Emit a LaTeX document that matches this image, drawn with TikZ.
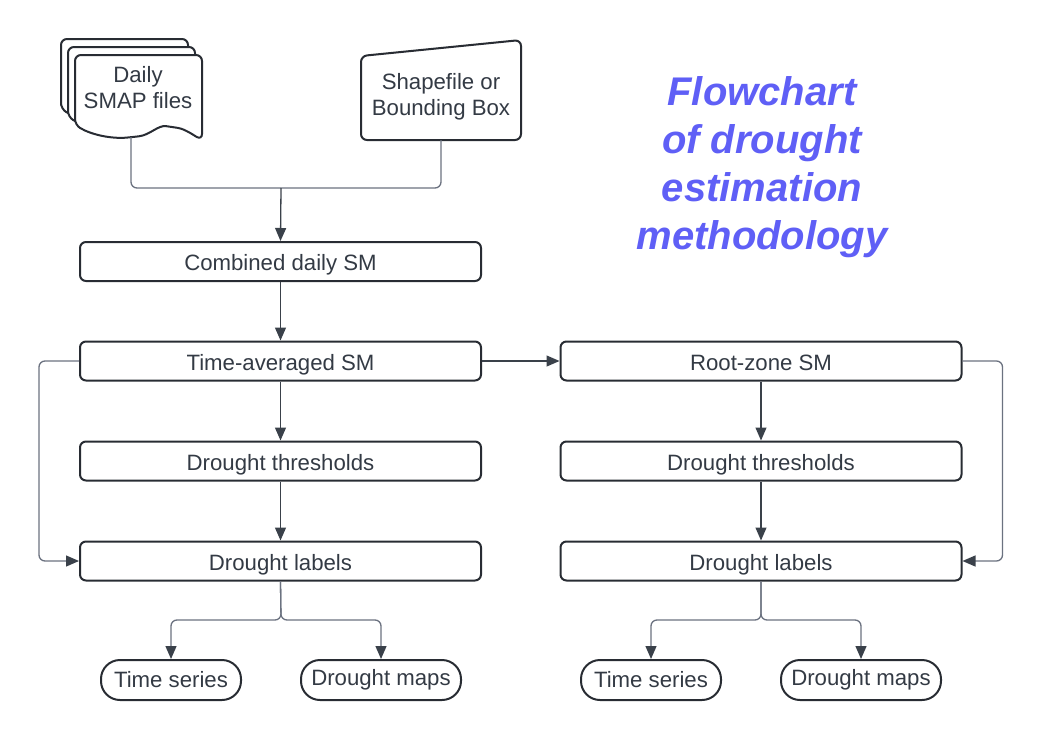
\documentclass[tikz,border=0pt]{standalone}
\usepackage{fontspec}
\setmainfont{Liberation Sans}
\usetikzlibrary{arrows.meta}
\definecolor{bord}{HTML}{282C33}
\definecolor{txt}{HTML}{333A44}
\definecolor{conn}{HTML}{6B7280}
\definecolor{head}{HTML}{3A414A}
\definecolor{ttl}{HTML}{5F5FF6}
\begin{document}
\begin{tikzpicture}[x=1pt,y=-1pt,
  lbl/.style={font=\fontsize{22.2}{26}\selectfont, text=txt},
  box/.style={lbl, draw=bord, line width=2pt, rounded corners=6pt, minimum width=401pt, minimum height=39pt, inner sep=0pt, text height=18pt, text depth=0pt},
  pill/.style={lbl, draw=bord, line width=2pt, rounded corners=19pt, minimum height=40pt, inner sep=0pt},
  shp/.style={draw=bord, line width=2pt, fill=white, rounded corners=6pt},
  tip/.style={-{Triangle[length=13pt,width=11pt,color=head,fill=head]}},
  arr/.style={draw=head, line width=1.3pt, tip},
  conn/.style={draw=conn, line width=1.3pt, rounded corners=6pt},
  carr/.style={conn, tip}]
\useasboundingbox (0,0) rectangle (1042,742);
% document stack
\foreach \dx/\dy in {-14/-16,-7/-8,0/0}{
  \path[shp, shift={(\dx,\dy)}] (75,125) -- (75,55) -- (202,55) -- (202,140)
    .. controls (195,136) and (185,129) .. (172,127)
    .. controls (158,125) and (150,135) .. (133,137)
    .. controls (112,139) and (92,135) .. (75,125) -- cycle;
}
\node[lbl, align=center] (smap) at (138,88) {Daily\\SMAP files};
\coordinate (smapb) at (131,137);
% manual input
\path[shp] (361,56) -- (521,40) -- (521,140) -- (361,140) -- cycle;
\node[lbl, align=center] (shape) at (441,96.5) {Shapefile or\\Bounding Box};
\coordinate (shpb) at (441,140);
% title
\node[text=ttl, font=\fontsize{40}{48}\selectfont\bfseries\itshape, align=center] (title) at (762,167.5) {Flowchart\\of drought\\estimation\\methodology};
% boxes
\node[box] (comb) at (280.5,261.5) {Combined daily SM};
\node[box] (tavg) at (280.5,361) {Time-averaged SM};
\node[box] (thrL) at (280.5,461) {Drought thresholds};
\node[box] (labL) at (280.5,561) {Drought labels};
\node[box] (rz) at (761,361) {Root-zone SM};
\node[box] (thrR) at (761,461) {Drought thresholds};
\node[box] (labR) at (761,561) {Drought labels};
\node[pill, minimum width=140pt] (tsL) at (171,680) {Time series};
\node[pill, minimum width=160pt] (mapL) at (381,680) {Drought maps};
\node[pill, minimum width=140pt] (tsR) at (651,680) {Time series};
\node[pill, minimum width=160pt] (mapR) at (861,680) {Drought maps};
% merge
\coordinate (mrg) at (281,188);
\draw[conn] (smapb) -- (131,188) -- (441,188) -- (shpb);
\draw[arr] (mrg) -- (comb.north);
% main flow
\draw[arr] (comb) -- (tavg);
\draw[arr] (tavg) -- (thrL);
\draw[arr] (thrL) -- (labL);
\draw[arr] (tavg) -- (rz);
\draw[arr] (rz) -- (thrR);
\draw[arr] (thrR) -- (labR);
% loops
\draw[carr] (tavg.west) -- ++(-40,0) |- (labL.west);
\draw[carr] (rz.east) -- ++(40,0) |- (labR.east);
% splits
\coordinate (spL) at (281,620);
\coordinate (spR) at (761,620);
\draw[carr] (labL.south) -- (spL) -| (tsL.north);
\draw[carr] (labL.south) -- (spL) -| (mapL.north);
\draw[carr] (labR.south) -- (spR) -| (tsR.north);
\draw[carr] (labR.south) -- (spR) -| (mapR.north);
\end{tikzpicture}
\end{document}
